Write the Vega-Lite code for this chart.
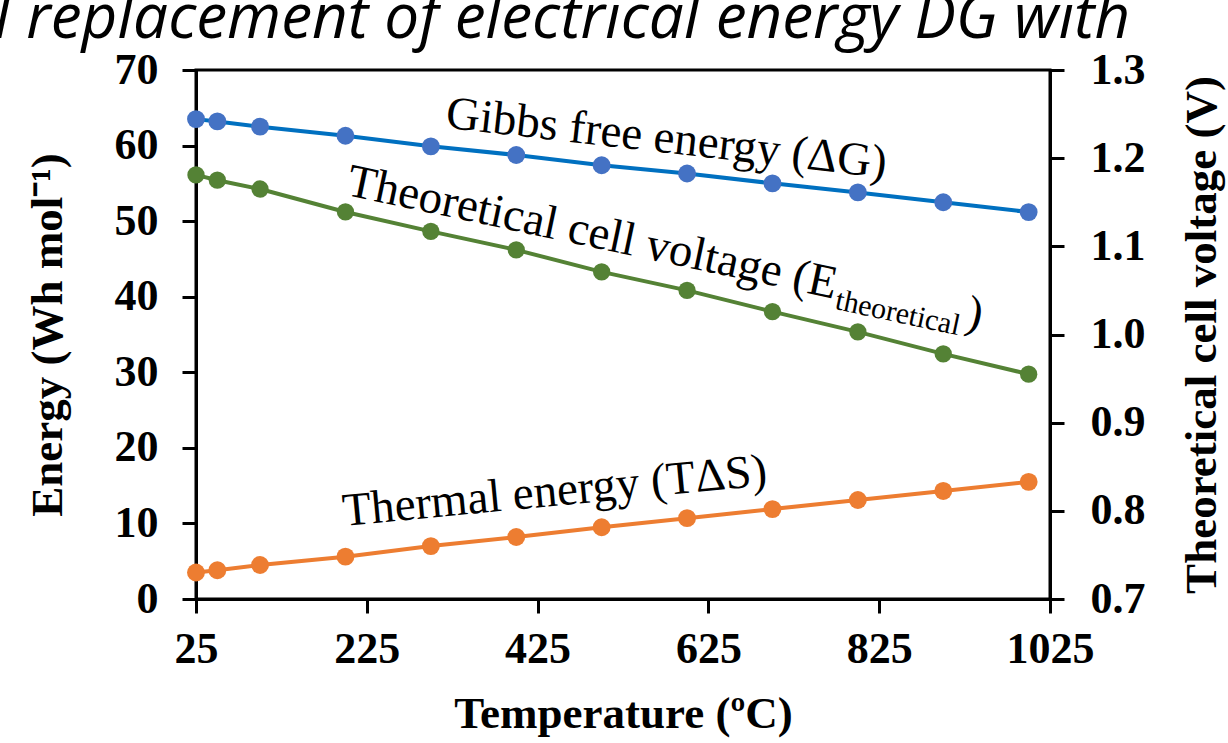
{
  "$schema": "https://vega.github.io/schema/vega-lite/v6.json",
  "width": 854,
  "height": 529,
  "autosize": "none",
  "padding": {"left": 196, "top": 70, "right": 178, "bottom": 144},
  "background": "white",
  "config": {
    "view": {"stroke": "black", "strokeWidth": 3},
    "axis": {
      "grid": false,
      "domainColor": "black",
      "domainWidth": 3,
      "tickColor": "black",
      "tickWidth": 3,
      "tickSize": 14,
      "labelFont": "Liberation Serif",
      "labelFontWeight": "bold",
      "labelFontSize": 44,
      "labelColor": "black",
      "titleFont": "Liberation Serif",
      "titleFontWeight": "bold",
      "titleFontSize": 45,
      "titleColor": "black",
      "labelFlush": false,
      "labelOverlap": false
    }
  },
  "datasets": {
    "energy": [
      {"T": 25, "series": "Gibbs", "E": 63.5},
      {"T": 50, "series": "Gibbs", "E": 63.2},
      {"T": 100, "series": "Gibbs", "E": 62.5},
      {"T": 200, "series": "Gibbs", "E": 61.3},
      {"T": 300, "series": "Gibbs", "E": 59.9},
      {"T": 400, "series": "Gibbs", "E": 58.75},
      {"T": 500, "series": "Gibbs", "E": 57.4},
      {"T": 600, "series": "Gibbs", "E": 56.3},
      {"T": 700, "series": "Gibbs", "E": 55.0},
      {"T": 800, "series": "Gibbs", "E": 53.8},
      {"T": 900, "series": "Gibbs", "E": 52.5},
      {"T": 1000, "series": "Gibbs", "E": 51.2},
      {"T": 25, "series": "Thermal", "E": 3.5},
      {"T": 50, "series": "Thermal", "E": 3.8},
      {"T": 100, "series": "Thermal", "E": 4.5},
      {"T": 200, "series": "Thermal", "E": 5.6},
      {"T": 300, "series": "Thermal", "E": 7.0},
      {"T": 400, "series": "Thermal", "E": 8.2},
      {"T": 500, "series": "Thermal", "E": 9.5},
      {"T": 600, "series": "Thermal", "E": 10.7},
      {"T": 700, "series": "Thermal", "E": 11.9},
      {"T": 800, "series": "Thermal", "E": 13.1},
      {"T": 900, "series": "Thermal", "E": 14.3},
      {"T": 1000, "series": "Thermal", "E": 15.5}
    ],
    "voltage": [
      {"T": 25, "V": 1.181},
      {"T": 50, "V": 1.175},
      {"T": 100, "V": 1.165},
      {"T": 200, "V": 1.139},
      {"T": 300, "V": 1.117},
      {"T": 400, "V": 1.096},
      {"T": 500, "V": 1.071},
      {"T": 600, "V": 1.050},
      {"T": 700, "V": 1.026},
      {"T": 800, "V": 1.003},
      {"T": 900, "V": 0.978},
      {"T": 1000, "V": 0.955}
    ]
  },
  "encoding": {
    "x": {
      "field": "T",
      "type": "quantitative",
      "scale": {"domain": [25, 1025], "nice": false, "zero": false},
      "axis": {
        "values": [25, 225, 425, 625, 825, 1025],
        "format": "d",
        "labelPadding": 14,
        "title": "Temperature (ºC)",
        "titlePadding": 20
      }
    }
  },
  "layer": [
    {
      "encoding": {
        "y": {
          "field": "E",
          "type": "quantitative",
          "scale": {"domain": [0, 70], "nice": false, "zero": true},
          "axis": {
            "orient": "left",
            "values": [0, 10, 20, 30, 40, 50, 60, 70],
            "labelPadding": 24,
            "title": "Energy (Wh mol⁻¹)",
            "titlePadding": 44
          }
        }
      },
      "layer": [
        {
          "data": {"name": "energy"},
          "mark": {"type": "line", "strokeWidth": 4},
          "encoding": {
            "detail": {"field": "series"},
            "stroke": {
              "field": "series",
              "type": "nominal",
              "scale": {"domain": ["Gibbs", "Thermal"], "range": ["#0070C0", "#ED7D31"]},
              "legend": null
            }
          }
        },
        {
          "data": {"name": "energy"},
          "mark": {"type": "point", "filled": true, "size": 320, "opacity": 1},
          "encoding": {
            "fill": {
              "field": "series",
              "type": "nominal",
              "scale": {"domain": ["Gibbs", "Thermal"], "range": ["#4472C4", "#ED7D31"]},
              "legend": null
            }
          }
        },
        {
          "data": {"values": [{"T": 576, "E": 60.9, "label": "Gibbs free energy (ΔG)"}]},
          "mark": {"type": "text", "font": "Liberation Serif", "fontSize": 47, "angle": 6.5, "align": "center", "baseline": "middle", "color": "black"},
          "encoding": {"text": {"field": "label"}}
        },
        {
          "data": {"values": [{"T": 445, "E": 14.2, "label": "Thermal energy (TΔS)"}]},
          "mark": {"type": "text", "font": "Liberation Serif", "fontSize": 47, "angle": -5.5, "align": "center", "baseline": "middle", "color": "black"},
          "encoding": {"text": {"field": "label"}}
        },
        {
          "data": {"values": [{"T": 199.5, "E": 53.5, "label": "Theoretical cell voltage (E"}]},
          "mark": {"type": "text", "font": "Liberation Serif", "fontSize": 47, "angle": 12, "align": "left", "baseline": "alphabetic", "color": "black"},
          "encoding": {"text": {"field": "label"}}
        },
        {
          "data": {"values": [{"T": 199.5, "E": 53.5, "label": "theoretical"}]},
          "mark": {"type": "text", "font": "Liberation Serif", "fontSize": 30, "angle": 12, "align": "left", "baseline": "alphabetic", "dx": 502, "dy": 10, "color": "black"},
          "encoding": {"text": {"field": "label"}}
        },
        {
          "data": {"values": [{"T": 199.5, "E": 53.5, "label": ")"}]},
          "mark": {"type": "text", "font": "Liberation Serif", "fontSize": 47, "angle": 12, "align": "left", "baseline": "alphabetic", "dx": 633, "dy": 0, "color": "black"},
          "encoding": {"text": {"field": "label"}}
        },
        {
          "data": {"values": [{"T": 1119, "E": 74.3, "label": "tial replacement of electrical energy DG with"}]},
          "mark": {"type": "text", "font": "Open Sans", "fontStyle": "italic", "fontWeight": 400, "fontSize": 62, "align": "right", "baseline": "alphabetic", "color": "black"},
          "encoding": {"text": {"field": "label"}}
        }
      ]
    },
    {
      "data": {"name": "voltage"},
      "encoding": {
        "y": {
          "field": "V",
          "type": "quantitative",
          "scale": {"domain": [0.7, 1.3], "nice": false, "zero": false},
          "axis": {
            "orient": "right",
            "values": [0.7, 0.8, 0.9, 1.0, 1.1, 1.2, 1.3],
            "format": ".1f",
            "labelPadding": 26,
            "title": "Theoretical cell voltage (V)",
            "titleAngle": -90,
            "titleBaseline": "top",
            "titlePadding": 34
          }
        }
      },
      "layer": [
        {"mark": {"type": "line", "strokeWidth": 4, "color": "#548235"}},
        {"mark": {"type": "point", "filled": true, "size": 300, "opacity": 1, "color": "#548235"}}
      ]
    }
  ],
  "resolve": {"scale": {"y": "independent", "stroke": "independent", "fill": "independent"}}
}
